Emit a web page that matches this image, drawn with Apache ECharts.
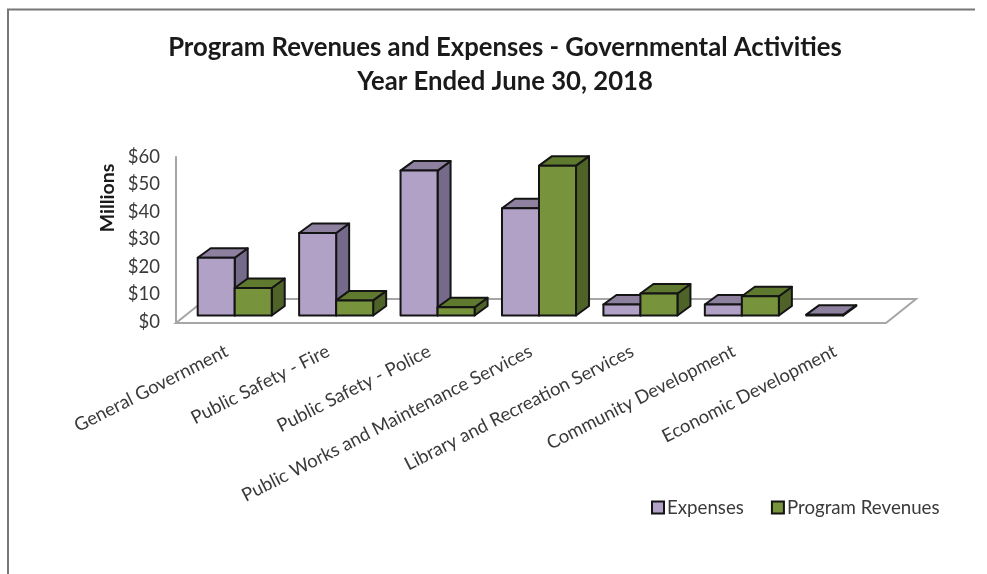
<!DOCTYPE html>
<html>
<head>
<meta charset="utf-8">
<style>html,body{margin:0;padding:0;background:#fff}#chart{width:987px;height:574px}</style>
<script src="https://cdn.jsdelivr.net/npm/echarts@6/dist/echarts.min.js"></script>
</head>
<body>
<div id="chart"></div>
<script>
const categories = ['General Government','Public Safety - Fire','Public Safety - Police','Public Works and Maintenance Services','Library and Recreation Services','Community Development','Economic Development'];
const expenses = [21, 30, 52.7, 39, 4, 4, 0.3];
const programRevenues = [10, 5.5, 3, 54.5, 8, 7, null];
const yTicks = [0, 10, 20, 30, 40, 50, 60];

// Oblique projection of the bars: depth offset, and shift of the bar base off the front floor edge
const DEPTH_X = 13, DEPTH_Y = 9.5, SHIFT_X = 8, SHIFT_Y = 6.5, BAR_RATIO = 0.365;
const LINE = '#141414';

function barRenderer(slot, front, top, side) {
  return function (params, api) {
    const v = api.value(1);
    if (v == null || isNaN(v)) return null;
    const cat = api.value(0);
    const w = api.size([1, 0])[0] * BAR_RATIO;
    const base = api.coord([cat, 0]);
    const head = api.coord([cat, v]);
    const xl = base[0] + SHIFT_X + (slot - 1) * w, xr = xl + w;
    const yb = base[1] - SHIFT_Y, yt = head[1] - SHIFT_Y;
    const stroke = { stroke: LINE, lineWidth: 2, lineJoin: 'round' };
    const poly = (points, fill) => ({ type: 'polygon', shape: { points }, style: Object.assign({ fill }, stroke) });
    return {
      type: 'group',
      children: [
        poly([[xr, yb], [xr + DEPTH_X, yb - DEPTH_Y], [xr + DEPTH_X, yt - DEPTH_Y], [xr, yt]], side),
        poly([[xl, yt], [xr, yt], [xr + DEPTH_X, yt - DEPTH_Y], [xl + DEPTH_X, yt - DEPTH_Y]], top),
        poly([[xl, yb], [xr, yb], [xr, yt], [xl, yt]], front)
      ]
    };
  };
}

function floorRenderer(params, api) {
  const c = params.coordSys;
  const b = c.y + c.height + 1, r = c.x + c.width;
  return {
    type: 'polygon',
    shape: { points: [[c.x, b], [r, b], [r + 30, b - 24], [c.x + 30, b - 24]] },
    style: { fill: '#fff', stroke: '#a6a6a6', lineWidth: 2 }
  };
}

const chart = echarts.init(document.getElementById('chart'));
chart.setOption({
  animation: false,
  backgroundColor: '#fff',
  textStyle: { fontFamily: 'Lato' },
  title: {
    text: 'Program Revenues and Expenses - Governmental Activities\nYear Ended June 30, 2018',
    left: 500, top: 26, textAlign: 'center',
    textStyle: { fontFamily: 'Lato', fontSize: 25.7, fontWeight: 'bold', color: '#1a1a1a', lineHeight: 34 }
  },
  grid: { left: 176, right: 101, top: 157, bottom: 252, containLabel: false },
  xAxis: {
    type: 'category', data: categories,
    axisLine: { show: false }, axisTick: { show: false },
    axisLabel: { interval: 0, rotate: 27, margin: 28, fontSize: 18.5, color: '#3a3a3a', fontFamily: 'Lato' }
  },
  yAxis: {
    type: 'value', min: 0, max: 60, interval: 10,
    axisLine: { show: true, lineStyle: { color: '#a6a6a6', width: 2 } },
    axisTick: { show: false }, splitLine: { show: false },
    axisLabel: { margin: 16, fontSize: 18.5, color: '#3a3a3a', fontFamily: 'Lato',
      formatter: v => yTicks.includes(v) ? '$' + v : '' }
  },
  legend: {
    left: 646, top: 493, itemWidth: 12, itemHeight: 12, itemGap: 27,
    icon: 'rect',
    data: ['Expenses', 'Program Revenues'],
    textStyle: { fontSize: 18.7, color: '#3a3a3a', fontFamily: 'Lato', padding: [0, 0, 0, -2] }
  },
  series: [
    { type: 'custom', name: 'floor', silent: true, renderItem: floorRenderer, data: [[0, 0]], z: 1 },
    { type: 'custom', name: 'Expenses', z: 2, renderItem: barRenderer(0, '#b2a1c7', '#8e81a0', '#766a8a'),
      itemStyle: { color: '#b2a1c7', borderColor: LINE, borderWidth: 2 },
      encode: { x: 0, y: 1 }, data: categories.map((c, i) => [i, expenses[i]]) },
    { type: 'custom', name: 'Program Revenues', z: 3, renderItem: barRenderer(1, '#77933c', '#5f7a2e', '#4f6228'),
      itemStyle: { color: '#77933c', borderColor: LINE, borderWidth: 2 },
      encode: { x: 0, y: 1 }, data: categories.map((c, i) => [i, programRevenues[i]]) }
  ],
  graphic: [
    { type: 'text', x: 108, y: 198, rotation: Math.PI / 2, style: { text: 'Millions', fontFamily: 'Lato', fontSize: 19.5, fontWeight: 'bold', fill: '#1a1a1a', align: 'center', verticalAlign: 'middle' } },
    { type: 'polyline', silent: true, shape: { points: [[8, 574], [8, 9.5], [975, 9.5]] }, style: { fill: 'none', stroke: '#777', lineWidth: 2 } }
  ]
});
</script>
</body>
</html>
